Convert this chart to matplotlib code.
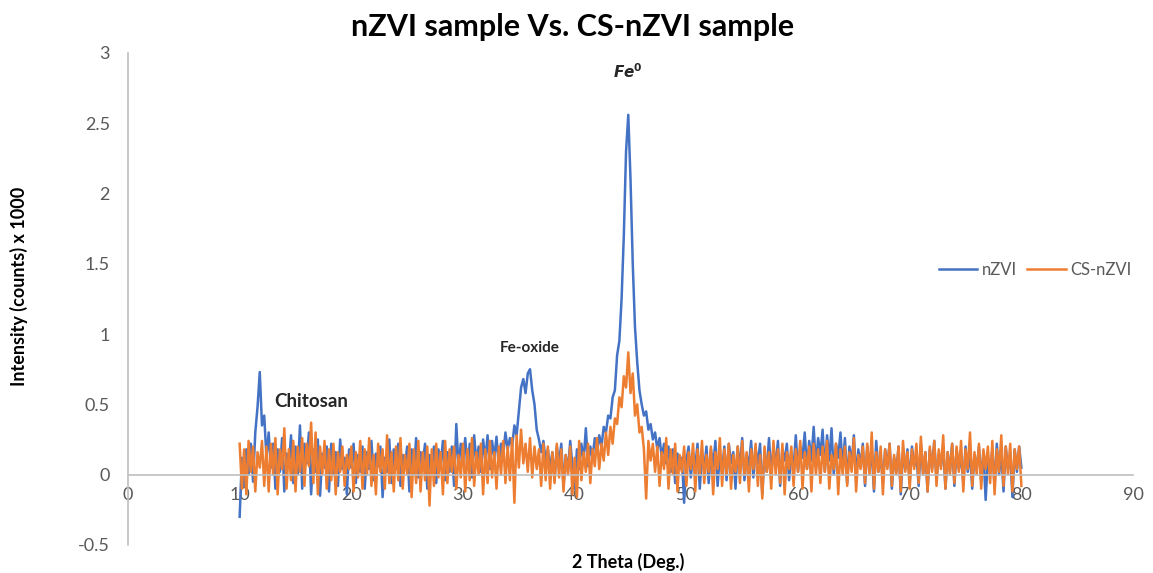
"""XRD pattern: nZVI vs CS-nZVI."""

import matplotlib

matplotlib.use("Agg")
import matplotlib.pyplot as plt
import numpy as np

plt.rcParams["font.family"] = ["Lato", "DejaVu Sans"]

# intensity (counts x 1000), scan 10..80 deg in 0.2 deg steps
nzvi = [
    -0.30, 0.12, -0.08, 0.18, 0.00, 0.22, -0.05, 0.30, 0.48, 0.73,
    0.35, 0.42, 0.12, 0.30, 0.05, 0.22, -0.10, 0.18, 0.02, 0.26,
    -0.12, 0.15, 0.05, 0.28, -0.06, 0.20, 0.00, 0.35, -0.10, 0.22,
    0.08, 0.30, -0.14, 0.18, 0.02, 0.25, -0.15, 0.15, 0.05, 0.20,
    -0.12, 0.22, 0.00, 0.16, -0.08, 0.25, 0.04, 0.12, -0.14, 0.18,
    0.05, 0.22, -0.06, 0.14, 0.02, 0.20, -0.10, 0.16, 0.04, 0.24,
    -0.04, 0.15, 0.06, 0.20, -0.16, 0.12, 0.02, 0.25, -0.06, 0.18,
    0.04, 0.22, -0.08, 0.14, 0.06, 0.20, -0.12, 0.18, 0.00, 0.26,
    -0.02, 0.16, 0.08, 0.22, -0.10, 0.14, 0.04, 0.20, -0.06, 0.18,
    0.06, 0.24, -0.04, 0.16, 0.02, 0.20, -0.08, 0.36, 0.05, 0.22,
    0.10, 0.26, 0.04, 0.22, -0.02, 0.28, 0.08, 0.20, 0.02, 0.25,
    0.10, 0.28, 0.04, 0.24, 0.12, 0.27, 0.06, 0.22, 0.14, 0.30,
    0.18, 0.26, 0.20, 0.35, 0.28, 0.45, 0.62, 0.68, 0.58, 0.72,
    0.75, 0.60, 0.50, 0.32, 0.25, 0.16, 0.24, 0.10, 0.18, 0.04,
    0.16, -0.04, 0.20, 0.08, 0.22, -0.08, 0.14, 0.02, 0.24, 0.06,
    -0.10, 0.18, 0.04, 0.22, 0.10, 0.33, 0.06, 0.20, 0.12, 0.26,
    0.15, 0.28, 0.20, 0.34, 0.30, 0.42, 0.40, 0.55, 0.60, 0.85,
    0.95, 1.25, 1.70, 2.30, 2.56, 2.10, 1.50, 1.05, 0.80, 0.60,
    0.50, 0.42, 0.45, 0.32, 0.36, 0.25, 0.30, 0.18, 0.26, 0.12,
    0.22, 0.08, 0.20, 0.02, 0.18, -0.06, 0.15, 0.04, 0.12, -0.20,
    0.10, 0.20, -0.02, 0.16, 0.06, 0.22, -0.10, 0.14, 0.04, 0.20,
    -0.06, 0.18, 0.06, 0.24, -0.08, 0.15, 0.02, 0.20, -0.04, 0.22,
    0.08, 0.16, -0.10, 0.20, 0.04, 0.26, -0.04, 0.14, 0.06, 0.24,
    -0.02, 0.18, 0.08, 0.22, -0.14, 0.16, 0.02, 0.26, 0.00, 0.20,
    0.06, 0.24, -0.08, 0.18, 0.10, 0.22, -0.04, 0.16, 0.04, 0.28,
    0.02, 0.20, 0.12, 0.30, 0.04, 0.24, 0.10, 0.34, 0.06, 0.26,
    0.14, 0.32, 0.02, 0.28, 0.10, 0.33, 0.00, 0.22, 0.12, 0.30,
    0.04, 0.26, -0.06, 0.20, 0.08, 0.28, -0.02, 0.18, 0.06, 0.22,
    -0.08, 0.20, 0.04, 0.16, -0.12, 0.24, 0.02, 0.14, -0.06, 0.18,
    0.06, 0.22, -0.10, 0.12, 0.02, 0.20, -0.14, 0.16, 0.04, 0.18,
    -0.06, 0.20, 0.06, 0.14, -0.08, 0.22, 0.00, 0.16, -0.12, 0.18,
    0.04, 0.24, -0.04, 0.14, 0.06, 0.20, -0.10, 0.16, 0.02, 0.22,
    -0.08, 0.18, 0.04, 0.12, -0.06, 0.20, 0.02, 0.16, -0.10, 0.14,
    0.04, 0.20, -0.04, 0.16, -0.18, 0.12, 0.02, 0.18, -0.08, 0.22,
    0.00, 0.16, -0.12, 0.20, 0.04, 0.14, -0.16, 0.18, 0.02, 0.20,
    0.05,
]

cs_nzvi = [
    0.22, -0.10, 0.18, -0.14, 0.24, 0.02, 0.20, -0.12, 0.16, 0.05,
    0.24, -0.08, 0.20, -0.12, 0.22, 0.00, 0.26, -0.14, 0.18, 0.04,
    0.33, -0.10, 0.18, -0.04, 0.24, -0.12, 0.20, 0.02, 0.26, -0.08,
    0.22, 0.06, 0.37, -0.06, 0.30, -0.14, 0.20, 0.00, 0.24, -0.10,
    0.18, -0.04, 0.22, -0.14, 0.16, 0.02, 0.20, -0.08, 0.14, 0.04,
    0.20, -0.12, 0.16, -0.02, 0.24, -0.10, 0.18, 0.00, 0.26, -0.08,
    0.14, -0.14, 0.22, 0.02, 0.18, -0.10, 0.28, -0.06, 0.16, -0.12,
    0.20, -0.04, 0.26, -0.10, 0.14, 0.00, 0.22, -0.16, 0.18, -0.06,
    0.24, -0.12, 0.16, -0.04, 0.20, -0.22, 0.18, -0.08, 0.22, -0.02,
    0.16, -0.14, 0.24, -0.06, 0.18, 0.02, 0.20, -0.10, 0.14, -0.02,
    0.22, -0.12, 0.18, -0.04, 0.26, -0.08, 0.16, 0.00, 0.22, -0.14,
    0.18, -0.06, 0.24, -0.02, 0.16, -0.10, 0.20, 0.00, 0.24, -0.06,
    0.20, -0.04, 0.26, -0.20, 0.28, 0.05, 0.32, 0.08, 0.22, 0.02,
    0.26, -0.02, 0.20, 0.04, 0.18, -0.08, 0.22, -0.04, 0.20, -0.10,
    0.16, -0.06, 0.22, -0.02, 0.18, -0.12, 0.14, 0.00, 0.20, -0.14,
    0.12, -0.16, 0.24, -0.04, 0.16, 0.02, 0.22, -0.06, 0.18, 0.06,
    0.26, 0.04, 0.22, 0.10, 0.30, 0.14, 0.34, 0.22, 0.40, 0.36,
    0.55, 0.48, 0.70, 0.62, 0.87, 0.58, 0.72, 0.42, 0.50, 0.30,
    0.34, 0.18, -0.17, 0.24, 0.10, 0.22, 0.02, 0.20, -0.08, 0.16,
    0.04, 0.26, -0.10, 0.18, 0.00, 0.22, -0.12, 0.14, 0.02, 0.20,
    -0.08, 0.16, 0.04, 0.22, -0.12, 0.18, 0.00, 0.24, -0.06, 0.14,
    0.02, 0.20, -0.14, 0.16, 0.04, 0.26, -0.08, 0.18, 0.00, 0.22,
    -0.10, 0.14, 0.02, 0.20, -0.06, 0.24, 0.00, 0.16, -0.12, 0.18,
    0.04, 0.22, -0.08, 0.14, -0.17, 0.20, 0.02, 0.16, -0.10, 0.24,
    0.00, 0.18, -0.06, 0.22, -0.14, 0.16, 0.04, 0.20, -0.08, 0.18,
    0.02, 0.24, -0.10, 0.16, 0.04, 0.20, -0.12, 0.22, 0.00, 0.18,
    -0.06, 0.20, 0.02, 0.24, -0.10, 0.14, 0.04, 0.22, -0.14, 0.18,
    0.00, 0.20, -0.08, 0.16, 0.02, 0.26, -0.12, 0.14, 0.04, 0.20,
    -0.06, 0.22, 0.00, 0.30, -0.10, 0.16, 0.02, 0.20, -0.14, 0.18,
    0.04, 0.22, -0.08, 0.14, 0.00, 0.20, -0.12, 0.24, 0.02, 0.16,
    -0.10, 0.18, 0.04, 0.22, -0.06, 0.27, 0.00, 0.16, -0.12, 0.20,
    0.02, 0.24, -0.08, 0.18, 0.04, 0.28, -0.10, 0.16, 0.00, 0.22,
    -0.06, 0.20, 0.02, 0.24, -0.12, 0.18, 0.04, 0.30, -0.08, 0.16,
    0.00, 0.22, -0.10, 0.18, 0.04, 0.20, -0.06, 0.24, -0.14, 0.18,
    0.02, 0.28, -0.08, 0.20, 0.00, 0.22, -0.12, 0.18, 0.04, 0.20,
    -0.08,
]

two_theta = np.linspace(10, 80, len(nzvi))

x_ticks = [0, 10, 20, 30, 40, 50, 60, 70, 80, 90]
y_ticks = [-0.5, 0, 0.5, 1, 1.5, 2, 2.5, 3]
y_tick_labels = ["-0.5", "0", "0.5", "1", "1.5", "2", "2.5", "3"]

BLUE = "#4472C4"
ORANGE = "#ED7D31"
GRID = "#BFBFBF"
TXT = "#595959"

fig = plt.figure(figsize=(11.53, 5.73), dpi=100)
ax = fig.add_axes([0.111, 0.049, 0.8717, 0.8586])

ax.plot(two_theta, nzvi, color=BLUE, lw=1.8, label="nZVI")
ax.plot(two_theta, cs_nzvi, color=ORANGE, lw=1.8, label="CS-nZVI")

ax.set_xlim(0, 90)
ax.set_ylim(-0.5, 3)
ax.set_xticks(x_ticks)
ax.set_yticks(y_ticks)
ax.set_yticklabels(y_tick_labels)

for s in ("top", "right"):
    ax.spines[s].set_visible(False)
ax.spines["bottom"].set_position(("data", 0))
ax.spines["bottom"].set_color(GRID)
ax.spines["left"].set_color(GRID)
ax.spines["bottom"].set_linewidth(1.2)
ax.spines["left"].set_linewidth(1.2)
ax.tick_params(axis="both", length=0, labelsize=13, labelcolor=TXT)
ax.tick_params(axis="x", pad=9)
ax.tick_params(axis="y", pad=13)

ax.text(16.4, 0.52, "Chitosan", fontsize=13.5, fontweight="bold", color="#262626",
        ha="center", va="center")
ax.text(36.0, 0.90, "Fe-oxide", fontsize=11, fontweight="bold", color="#262626",
        ha="center", va="center")
ax.text(44.8, 2.87, r"$\mathbfit{Fe}^{\mathbf{0}}$", fontsize=11, color="#262626",
        ha="center", va="center")

fig.text(0.497, 0.953, "nZVI sample Vs. CS-nZVI sample", fontsize=22,
         fontweight="bold", ha="center", va="center", color="black")
fig.text(0.016, 0.50, "Intensity (counts) x 1000", fontsize=13, fontweight="bold",
         rotation=90, ha="center", va="center", color="black")
fig.text(0.545, 0.019, "2 Theta (Deg.)", fontsize=13, fontweight="bold",
         ha="center", va="center", color="black")

ax.legend(loc="center", bbox_to_anchor=(0.898, 0.529), bbox_transform=fig.transFigure,
          ncol=2, frameon=False, fontsize=12, handlelength=2.3,
          columnspacing=0.6, handletextpad=0.3, labelcolor=TXT)

fig.savefig("out.png", dpi=100)
plt.close(fig)
